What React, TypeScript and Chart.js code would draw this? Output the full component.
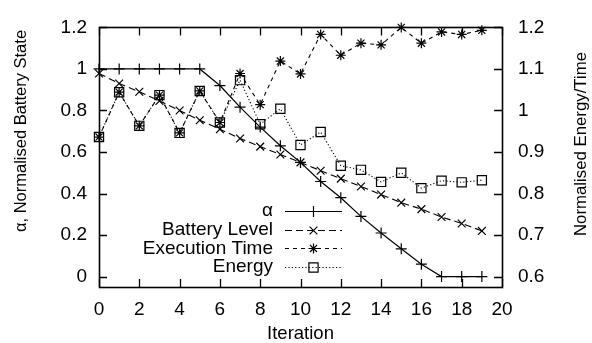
import React, { useEffect, useRef } from 'react';
import { Chart, registerables } from 'chart.js';
import { drawPoint } from 'chart.js/helpers';

Chart.register(...registerables);

const iterations = [0, 1, 2, 3, 4, 5, 6, 7, 8, 9, 10, 11, 12, 13, 14, 15, 16, 17, 18, 19];
const alphaValues = [1, 1, 1, 1, 1, 1, 0.92, 0.816, 0.72, 0.63, 0.55, 0.458, 0.38, 0.29, 0.21, 0.134, 0.06, 0, 0, 0];
const batteryLevel = [0.978, 0.93, 0.89, 0.846, 0.8, 0.753, 0.71, 0.665, 0.626, 0.588, 0.55, 0.51, 0.472, 0.434, 0.395, 0.356, 0.325, 0.287, 0.256, 0.22];
const executionTime = [0.936, 1.044, 0.963, 1.037, 0.946, 1.047, 0.971, 1.089, 1.014, 1.119, 1.088, 1.183, 1.133, 1.162, 1.158, 1.2, 1.162, 1.189, 1.183, 1.193];
const energy = [0.936, 1.044, 0.963, 1.037, 0.946, 1.047, 0.971, 1.073, 0.967, 1.004, 0.917, 0.948, 0.867, 0.857, 0.828, 0.85, 0.813, 0.831, 0.827, 0.832];

const xTicks = [0, 2, 4, 6, 8, 10, 12, 14, 16, 18, 20];
const leftTicks = [0, 0.2, 0.4, 0.6, 0.8, 1, 1.2];
const rightTicks = [0.6, 0.7, 0.8, 0.9, 1, 1.1, 1.2];

const xTitle = 'Iteration';
const leftTitle = 'α, Normalised Battery State';
const rightTitle = 'Normalised Energy/Time';

const FONT = '"Liberation Sans", Arial, sans-serif';

const toPoints = (vals: number[]) => vals.map((v, i) => ({ x: iterations[i], y: v }));
const fmt = (v: any) => String(Number(Number(v).toFixed(2)));

const gnuplotPlugin = {
  id: 'gnuplotFrame',
  beforeDraw(chart: any) {
    const ctx = chart.ctx;
    ctx.save();
    ctx.fillStyle = '#ffffff';
    ctx.fillRect(0, 0, chart.width, chart.height);
    ctx.restore();
  },
  afterDraw(chart: any) {
    const ctx = chart.ctx;
    const { left, right, top, bottom } = chart.chartArea;
    const sx = chart.scales.x;
    const sy = chart.scales.y;
    const sy2 = chart.scales.y2;
    const tl = 8;
    ctx.save();
    ctx.strokeStyle = '#000';
    ctx.lineWidth = 1.3;
    ctx.setLineDash([]);
    ctx.beginPath();
    xTicks.forEach((t) => {
      const px = Math.round(sx.getPixelForValue(t)) + 0.5;
      ctx.moveTo(px, bottom);
      ctx.lineTo(px, bottom - tl);
      ctx.moveTo(px, top);
      ctx.lineTo(px, top + tl);
    });
    leftTicks.forEach((t) => {
      const py = Math.round(sy.getPixelForValue(t)) + 0.5;
      ctx.moveTo(left, py);
      ctx.lineTo(left + tl, py);
    });
    rightTicks.forEach((t) => {
      const py = Math.round(sy2.getPixelForValue(t)) + 0.5;
      ctx.moveTo(right, py);
      ctx.lineTo(right - tl, py);
    });
    ctx.stroke();
    ctx.lineWidth = 1.6;
    ctx.strokeRect(Math.round(left) + 0.5, Math.round(top) + 0.5, Math.round(right - left), Math.round(bottom - top));

    // axis titles
    ctx.fillStyle = '#000';
    ctx.textAlign = 'center';
    ctx.textBaseline = 'middle';
    ctx.font = `18.5px ${FONT}`;
    ctx.fillText(xTitle, (left + right) / 2, 334);
    ctx.font = `16.5px ${FONT}`;
    ctx.save();
    ctx.translate(21, 131);
    ctx.rotate(-Math.PI / 2);
    ctx.fillText(leftTitle, 0, 0);
    ctx.restore();
    ctx.font = `16.8px ${FONT}`;
    ctx.save();
    ctx.translate(581, 144);
    ctx.rotate(-Math.PI / 2);
    ctx.fillText(rightTitle, 0, 0);
    ctx.restore();

    // legend
    ctx.font = `19px ${FONT}`;
    const textRight = 273;
    const lineStart = 285;
    const lineEnd = 342;
    const rowY = [211, 229.7, 248.4, 267.1];
    chart.data.datasets.forEach((ds: any, i: number) => {
      const y = rowY[i];
      ctx.textAlign = 'right';
      ctx.fillStyle = '#000';
      ctx.fillText(ds.label, textRight, y);
      ctx.beginPath();
      ctx.strokeStyle = '#000';
      ctx.lineWidth = ds.borderWidth;
      ctx.setLineDash(ds.borderDash || []);
      ctx.moveTo(lineStart, Math.round(y) + 0.5);
      ctx.lineTo(lineEnd, Math.round(y) + 0.5);
      ctx.stroke();
      ctx.setLineDash([]);
      ctx.lineWidth = ds.pointBorderWidth;
      ctx.fillStyle = 'rgba(0,0,0,0)';
      drawPoint(ctx, { pointStyle: ds.pointStyle, radius: ds.pointRadius, rotation: 0, borderWidth: ds.pointBorderWidth } as any, (lineStart + lineEnd) / 2, Math.round(y) + 0.5);
    });
    ctx.restore();
  },
};

export default function App() {
  const ref = useRef<HTMLCanvasElement | null>(null);
  useEffect(() => {
    document.body.style.margin = '0';
    if (!ref.current) return;
    const common = {
      borderColor: '#000',
      pointBorderColor: '#000',
      pointBackgroundColor: 'rgba(0,0,0,0)',
      tension: 0,
      fill: false,
      pointBorderWidth: 1.2,
      clip: false as any,
    };
    const tickFont = { family: FONT, size: 19 };
    const chart = new Chart(ref.current, {
      type: 'line',
      data: {
        datasets: [
          { ...common, label: 'α', data: toPoints(alphaValues), yAxisID: 'y', borderWidth: 1.2, borderDash: [], pointStyle: 'cross', pointRadius: 5.5 },
          { ...common, label: 'Battery Level', data: toPoints(batteryLevel), yAxisID: 'y', borderWidth: 1.1, borderDash: [7, 4], pointStyle: 'crossRot', pointRadius: 5.5 },
          { ...common, label: 'Execution Time', data: toPoints(executionTime), yAxisID: 'y2', borderWidth: 1.1, borderDash: [4, 4], pointStyle: 'star', pointRadius: 5 },
          { ...common, label: 'Energy', data: toPoints(energy), yAxisID: 'y2', borderWidth: 1.1, borderDash: [1.2, 2.2], pointStyle: 'rect', pointRadius: 6.5 },
        ],
      },
      options: {
        responsive: false,
        animation: false,
        events: [],
        layout: { padding: { top: 18, left: 0, right: 0, bottom: 0 } },
        plugins: { legend: { display: false }, tooltip: { enabled: false } },
        scales: {
          x: {
            type: 'linear',
            min: 0,
            max: 20,
            grid: { display: false, drawTicks: false },
            border: { display: false },
            afterBuildTicks: (s: any) => { s.ticks = xTicks.map((v) => ({ value: v })); },
            afterFit: (s: any) => { s.height = 56; },
            ticks: { color: '#000', font: tickFont, padding: 11, maxRotation: 0, autoSkip: false, callback: fmt },
          },
          y: {
            type: 'linear',
            position: 'left',
            min: -0.05,
            max: 1.2,
            grid: { display: false, drawTicks: false },
            border: { display: false },
            afterBuildTicks: (s: any) => { s.ticks = leftTicks.map((v) => ({ value: v })); },
            afterFit: (s: any) => { s.width = 99; },
            ticks: { color: '#000', font: tickFont, padding: 12, autoSkip: false, callback: fmt },
          },
          y2: {
            type: 'linear',
            position: 'right',
            min: 0.575,
            max: 1.2,
            grid: { display: false, drawTicks: false },
            border: { display: false },
            afterBuildTicks: (s: any) => { s.ticks = rightTicks.map((v) => ({ value: v })); },
            afterFit: (s: any) => { s.width = 90; },
            ticks: { color: '#000', font: tickFont, padding: 16, autoSkip: false, callback: fmt },
          },
        },
      },
      plugins: [gnuplotPlugin],
    });
    return () => chart.destroy();
  }, []);
  return (
    <div style={{ width: 592, height: 343 }}>
      <canvas ref={ref} width={592} height={343} />
    </div>
  );
}
